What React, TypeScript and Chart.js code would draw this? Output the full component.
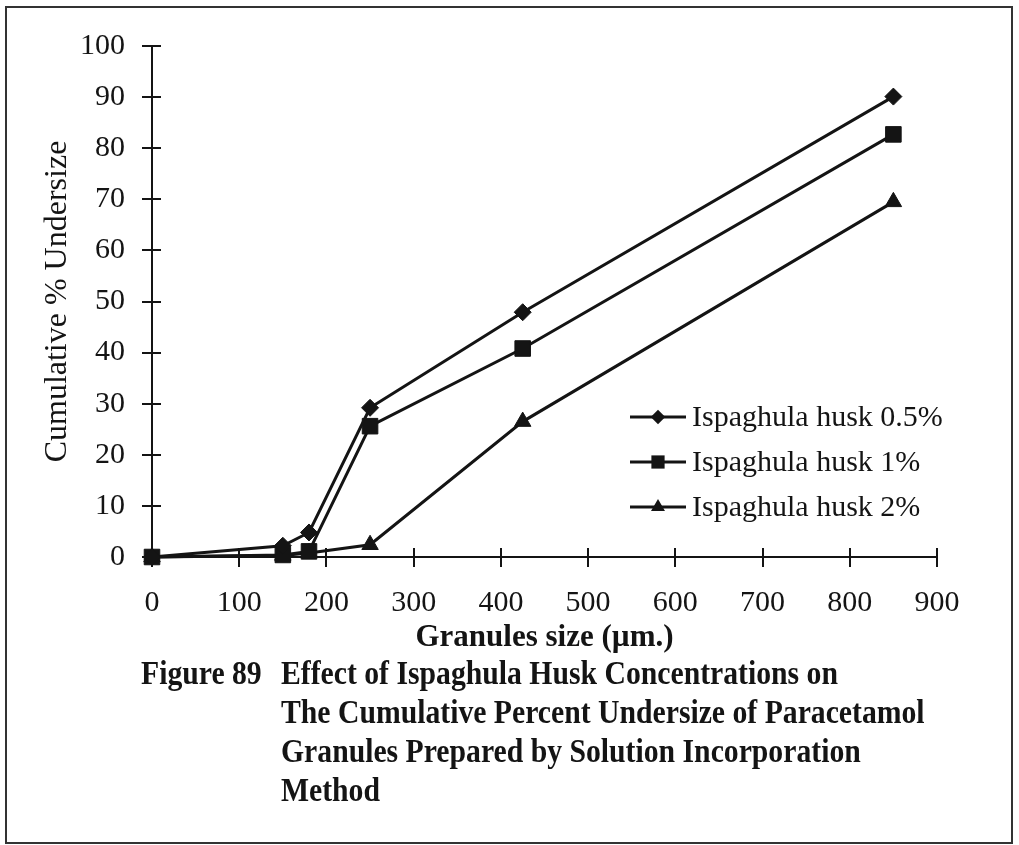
import React, { useEffect, useRef } from 'react';
import { Chart, registerables } from 'chart.js';

Chart.register(...registerables);

// ---- data ----
const granuleSizes = [0, 150, 180, 250, 425, 850];
const husk05 = [0, 2.2, 4.8, 29.2, 47.9, 90.1];
const husk1 = [0, 0.4, 1.1, 25.6, 40.8, 82.7];
const husk2 = [0, 0.3, 0.8, 2.4, 26.5, 69.5];
const seriesLabels = ['Ispaghula husk 0.5%', 'Ispaghula husk 1%', 'Ispaghula husk 2%'];
const seriesStyles = ['rectRot', 'rect', 'triangle'];
const seriesRadius = [8.5, 11, 9.5];
const xMin = 0;
const xMax = 900;
const xStep = 100;
const yMin = 0;
const yMax = 100;
const yStep = 10;
const xTitle = 'Granules size (µm.)';
const yTitle = 'Cumulative % Undersize';
const figureLabel = 'Figure 89';
const captionLines = [
  'Effect of Ispaghula Husk Concentrations on',
  'The Cumulative Percent Undersize of Paracetamol',
  'Granules Prepared by Solution Incorporation',
  'Method',
];

const INK = '#141414';
const SERIF = '"Liberation Serif", "Times New Roman", serif';

function drawMarker(ctx: CanvasRenderingContext2D, style: string, x: number, y: number, r: number) {
  ctx.beginPath();
  if (style === 'rectRot') {
    ctx.moveTo(x - r, y);
    ctx.lineTo(x, y - r);
    ctx.lineTo(x + r, y);
    ctx.lineTo(x, y + r);
  } else if (style === 'rect') {
    const s = Math.SQRT1_2 * r;
    ctx.rect(x - s, y - s, 2 * s, 2 * s);
  } else {
    const a = (2 * Math.PI) / 3;
    ctx.moveTo(x, y - r);
    ctx.lineTo(x + Math.sin(a) * r, y - Math.cos(a) * r);
    ctx.lineTo(x + Math.sin(2 * a) * r, y - Math.cos(2 * a) * r);
  }
  ctx.closePath();
  ctx.fill();
}

const crossTicks = {
  id: 'crossTicks',
  beforeDatasetsDraw(chart: any) {
    const ctx = chart.ctx;
    const xs = chart.scales.x;
    const ys = chart.scales.y;
    const area = chart.chartArea;
    ctx.save();
    ctx.strokeStyle = INK;
    ctx.lineWidth = 2;
    ctx.beginPath();
    xs.ticks.forEach((t: any) => {
      const px = Math.round(xs.getPixelForValue(t.value));
      ctx.moveTo(px, area.bottom);
      ctx.lineTo(px, area.bottom - 9);
    });
    ys.ticks.forEach((t: any) => {
      const py = Math.round(ys.getPixelForValue(t.value));
      ctx.moveTo(area.left, py);
      ctx.lineTo(area.left + 9, py);
    });
    ctx.stroke();
    ctx.restore();
  },
};

const insideLegend = {
  id: 'insideLegend',
  afterDraw(chart: any) {
    const ctx = chart.ctx;
    ctx.save();
    chart.data.datasets.forEach((ds: any, i: number) => {
      const y = 417 + i * 45;
      ctx.strokeStyle = INK;
      ctx.fillStyle = INK;
      ctx.lineWidth = 3;
      ctx.beginPath();
      ctx.moveTo(630, y);
      ctx.lineTo(686, y);
      ctx.stroke();
      drawMarker(ctx, ds.pointStyle, 658, y, ds.pointRadius * 0.85);
      ctx.font = `30px ${SERIF}`;
      ctx.textAlign = 'left';
      ctx.textBaseline = 'middle';
      ctx.fillText(ds.label, 692, y + 1);
    });
    ctx.restore();
  },
};

export default function App() {
  const canvasRef = useRef<HTMLCanvasElement | null>(null);

  useEffect(() => {
    document.body.style.margin = '0';
    const canvas = canvasRef.current;
    if (!canvas) return;
    const seriesValues = [husk05, husk1, husk2];
    const chart = new Chart(canvas, {
      type: 'line',
      data: {
        datasets: seriesValues.map((vals, i) => ({
          label: seriesLabels[i],
          data: granuleSizes.map((x, j) => ({ x, y: vals[j] })),
          borderColor: INK,
          backgroundColor: INK,
          borderWidth: 3,
          pointStyle: seriesStyles[i] as any,
          pointRadius: seriesRadius[i],
          pointBorderWidth: 1,
          pointBackgroundColor: INK,
          pointBorderColor: INK,
          tension: 0,
          fill: false,
          clip: false as any,
        })),
      },
      options: {
        responsive: false,
        animation: false,
        layout: { padding: { left: 0, right: 82, top: 46, bottom: 0 } },
        plugins: {
          legend: { display: false },
          tooltip: { enabled: false },
          title: { display: false },
        },
        scales: {
          x: {
            type: 'linear',
            min: xMin,
            max: xMax,
            afterFit: (scale: any) => {
              scale.height = 288;
            },
            ticks: {
              stepSize: xStep,
              color: INK,
              padding: 18,
              font: { family: SERIF, size: 30 },
              maxRotation: 0,
            },
            grid: {
              display: true,
              drawOnChartArea: false,
              drawTicks: true,
              tickLength: 10,
              color: INK,
              lineWidth: 2,
            },
            border: { display: true, color: INK, width: 2 },
            title: {
              display: true,
              text: xTitle,
              color: INK,
              font: { family: SERIF, size: 31, weight: 'bold' },
              padding: { top: 0, bottom: 188 },
            },
          },
          y: {
            type: 'linear',
            min: yMin,
            max: yMax,
            afterFit: (scale: any) => {
              scale.width = 152;
            },
            ticks: {
              stepSize: yStep,
              color: INK,
              padding: 17,
              font: { family: SERIF, size: 30 },
            },
            grid: {
              display: true,
              drawOnChartArea: false,
              drawTicks: true,
              tickLength: 10,
              color: INK,
              lineWidth: 2,
            },
            border: { display: true, color: INK, width: 2 },
            title: {
              display: true,
              text: yTitle,
              color: INK,
              font: { family: SERIF, size: 32 },
              padding: { top: 38, bottom: 0 },
            },
          },
        },
      },
      plugins: [crossTicks, insideLegend],
    });
    return () => chart.destroy();
  }, []);

  const captionStyle: React.CSSProperties = {
    position: 'absolute',
    fontFamily: SERIF,
    fontWeight: 'bold',
    fontSize: 33,
    lineHeight: '40px',
    color: INK,
    whiteSpace: 'nowrap',
    transform: 'scaleX(0.9)',
    transformOrigin: 'left center',
  };

  return (
    <div
      style={{
        position: 'fixed',
        left: 0,
        top: 0,
        width: 1019,
        height: 845,
        background: '#ffffff',
        overflow: 'hidden',
      }}
    >
      <canvas
        ref={canvasRef}
        width={1019}
        height={845}
        style={{ position: 'absolute', left: 0, top: 0, width: 1019, height: 845 }}
      />
      <div style={{ ...captionStyle, left: 141, top: 653 }}>{figureLabel}</div>
      {captionLines.map((line, i) => (
        <div key={i} style={{ ...captionStyle, left: 281, top: 653 + i * 39 }}>
          {line}
        </div>
      ))}
      <div
        style={{
          position: 'absolute',
          left: 5,
          top: 6,
          width: 1008,
          height: 838,
          boxSizing: 'border-box',
          border: '2px solid #333',
          pointerEvents: 'none',
        }}
      />
    </div>
  );
}
